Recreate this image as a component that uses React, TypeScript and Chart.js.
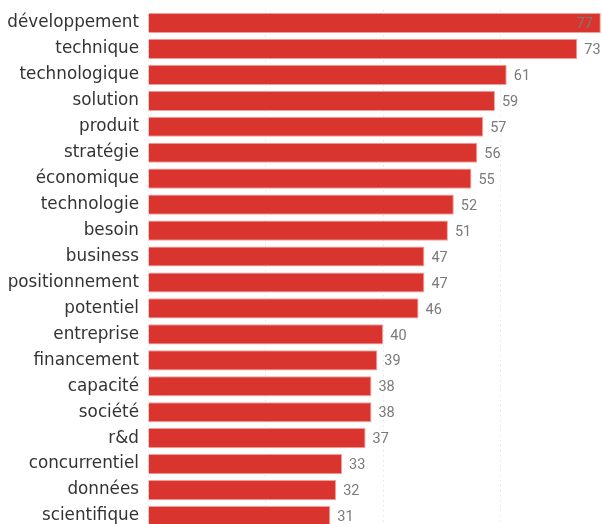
import React, { useEffect, useRef } from "react";
import { Chart, registerables } from "chart.js";

Chart.register(...registerables);

const categories = [
  "développement", "technique", "technologique", "solution", "produit",
  "stratégie", "économique", "technologie", "besoin", "business",
  "positionnement", "potentiel", "entreprise", "financement", "capacité",
  "société", "r&d", "concurrentiel", "données", "scientifique",
];
const counts = [77, 73, 61, 59, 57, 56, 55, 52, 51, 47, 47, 46, 40, 39, 38, 38, 37, 33, 32, 31];
const xTicks = [0, 20, 40, 60];

const LABEL_FONT = "16.8px 'DejaVu Sans', sans-serif";
const VALUE_FONT = "14.5px 'Roboto', sans-serif";

const textPlugin = {
  id: "textPlugin",
  afterDatasetsDraw(chart: any) {
    const ctx = chart.ctx;
    const meta = chart.getDatasetMeta(0);
    const left = chart.chartArea.left;
    ctx.save();
    ctx.textBaseline = "middle";
    meta.data.forEach((bar: any, i: number) => {
      ctx.font = LABEL_FONT;
      ctx.fillStyle = "#333333";
      ctx.textAlign = "right";
      ctx.fillText(categories[i], left - 9, bar.y);
      ctx.font = VALUE_FONT;
      ctx.fillStyle = "#7a7a7a";
      ctx.textAlign = "left";
      const txt = String(counts[i]);
      const w = ctx.measureText(txt).width;
      let x = bar.x + 7;
      if (x + w > chart.width) x = bar.x - 8 - w;
      ctx.fillText(txt, x, bar.y + 1.5);
    });
    ctx.restore();
  },
};

export default function App() {
  const ref = useRef<HTMLCanvasElement>(null);
  useEffect(() => {
    if (!ref.current) return;
    const chart = new Chart(ref.current, {
      type: "bar",
      data: {
        labels: categories,
        datasets: [
          {
            data: counts,
            backgroundColor: "#d9352e",
            borderColor: "#f0a09b",
            borderWidth: 1,
            barPercentage: 0.775,
            categoryPercentage: 1,
          },
        ],
      },
      options: {
        indexAxis: "y",
        animation: false,
        responsive: false,
        maintainAspectRatio: false,
        layout: { padding: { top: 10, right: 0, bottom: 0, left: 0 } },
        plugins: { legend: { display: false }, tooltip: { enabled: false } },
        scales: {
          x: {
            min: 0,
            max: 77.2,
            afterBuildTicks: (s: any) => {
              s.ticks = xTicks.map((v) => ({ value: v }));
            },
            afterFit: (s: any) => {
              s.height = 0;
            },
            ticks: { display: false },
            border: { display: false, dash: [1.5, 3.5] },
            grid: {
              color: "#e4e4e4",
              lineWidth: 1,
              drawTicks: false,
            },
          },
          y: {
            afterFit: (s: any) => {
              s.width = 148;
            },
            border: { display: false },
            grid: { display: false, drawTicks: false },
            ticks: { display: false },
          },
        },
      },
      plugins: [textPlugin],
    } as any);
    return () => chart.destroy();
  }, []);
  return (
    <div style={{ position: "fixed", left: 0, top: 0, width: 602, height: 524, overflow: "hidden", background: "#fff" }}>
      <canvas ref={ref} width={602} height={529} style={{ display: "block" }} />
    </div>
  );
}
